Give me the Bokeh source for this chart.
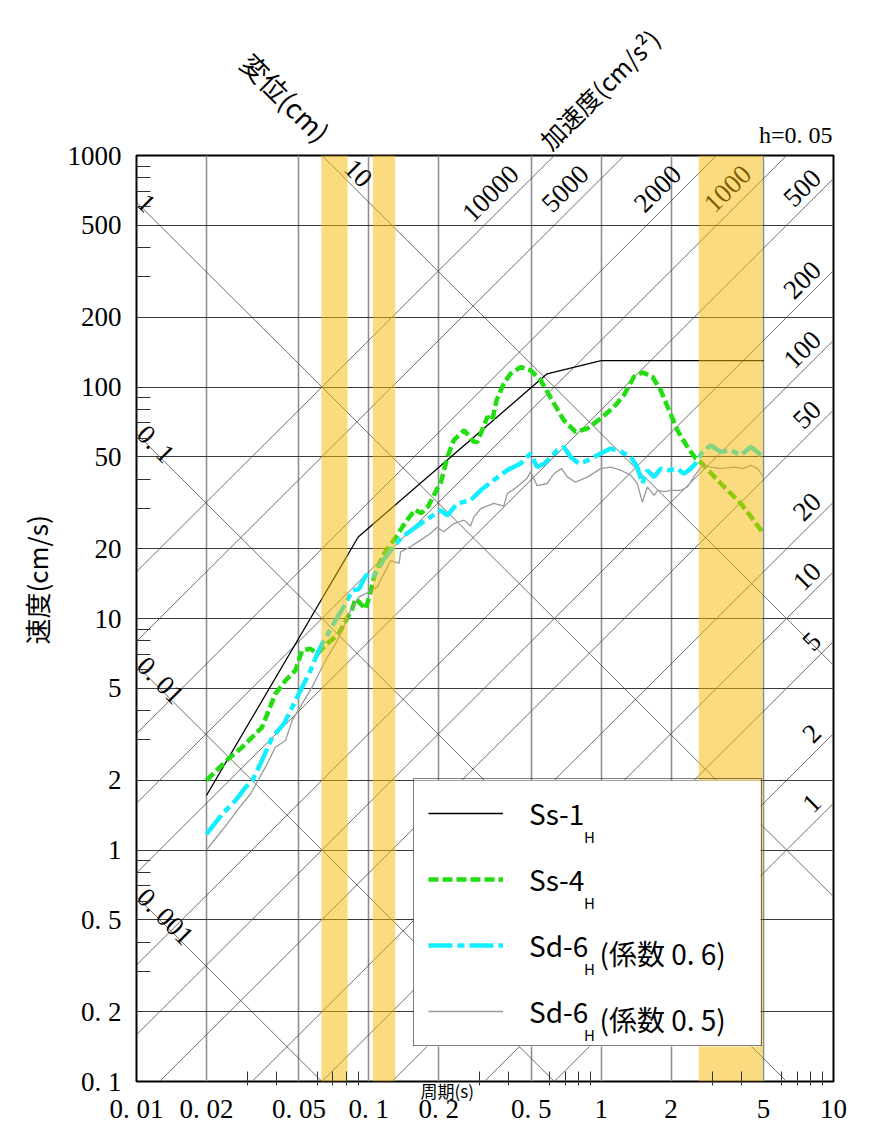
import math
from bokeh.plotting import figure
from bokeh.models import (FixedTicker, CustomJSTickFormatter, Legend, LegendItem,
                          ColumnDataSource, LogAxis, Title)
from bokeh.core.properties import value
from bokeh.embed import file_html
from bokeh.resources import INLINE

# ---------------- data ----------------
x_ticks = [0.01, 0.02, 0.05, 0.1, 0.2, 0.5, 1, 2, 5, 10]
x_tick_labels = ["0. 01", "0. 02", "0. 05", "0. 1", "0. 2", "0. 5", "1", "2", "5", "10"]
y_ticks = [0.1, 0.2, 0.5, 1, 2, 5, 10, 20, 50, 100, 200, 500, 1000]
y_tick_labels = ["0. 1", "0. 2", "0. 5", "1", "2", "5", "10", "20", "50", "100", "200", "500", "1000"]

disp_values = [0.001, 0.01, 0.1, 1, 10]             # displacement lines (cm)
disp_labels = ["0. 001", "0. 01", "0. 1", "1", "10"]
acc_values = [1, 2, 5, 10, 20, 50, 100, 200, 500, 1000, 2000, 5000, 10000]  # cm/s2
acc_labels = ["1", "2", "5", "10", "20", "50", "100", "200", "500", "1000", "2000", "5000", "10000"]

band_start = [0.0625, 0.104, 2.63]
band_end = [0.081, 0.130, 4.95]

ss1_period = [0.02, 0.09, 0.585, 1.0, 5.0]
ss1_vel = [1.72, 22.5, 114, 130, 130]

ss4_period = [0.02, 0.0249, 0.0285, 0.0347, 0.0396, 0.0438, 0.0483, 0.0516, 0.0561, 0.060,
              0.0673, 0.0743, 0.0848, 0.0877, 0.0937, 0.097, 0.1017, 0.106, 0.116, 0.128,
              0.146, 0.158, 0.168, 0.18, 0.197, 0.2036, 0.218, 0.232, 0.257, 0.283, 0.293,
              0.324, 0.34, 0.355, 0.381, 0.407, 0.45, 0.497, 0.549, 0.626, 0.691, 0.776,
              0.872, 0.995, 1.135, 1.253, 1.384, 1.504, 1.662, 1.804, 1.96, 2.13, 2.35,
              2.55, 2.68, 3.27, 3.99, 5.0]
ss4_vel = [2.0, 2.48, 2.78, 3.39, 4.73, 5.40, 5.97, 7.28, 7.4, 7.04,
           7.9, 8.6, 11.0, 12.2, 11.4, 11.0, 13.0, 15.5, 19.0, 21.8,
           26.6, 29.5, 28.5, 30.5, 36.4, 38.3, 49.9, 58.9, 65.0, 58.0, 57.9,
           74.3, 71.8, 88.0, 103.5, 114, 122, 118, 107, 84.9, 71.8, 64.0,
           66.2, 73.1, 82.0, 92.2, 110.7, 115.6, 110.7, 96.8, 79.4, 65.0, 55.1,
           49.1, 47.4, 38.3, 31.4, 23.3]

sd6a_period = [0.02, 0.0234, 0.0267, 0.0295, 0.0315, 0.0347, 0.0384, 0.0431, 0.0468, 0.0516,
               0.0561, 0.060, 0.063, 0.0719, 0.0794, 0.0848, 0.0906, 0.097, 0.1016, 0.105,
               0.116, 0.128, 0.137, 0.146, 0.167, 0.184, 0.2036, 0.218, 0.240, 0.274,
               0.303, 0.345, 0.394, 0.450, 0.497, 0.53, 0.57, 0.648, 0.691, 0.739,
               0.802, 0.872, 0.995, 1.099, 1.213, 1.34, 1.43, 1.504, 1.58, 1.69,
               1.804, 1.96, 2.13, 2.27, 2.43, 2.55, 2.73, 2.96, 3.27, 3.61,
               3.99, 4.40, 4.71, 5.0]
sd6a_vel = [1.17, 1.43, 1.64, 1.87, 1.99, 2.44, 3.07, 3.51, 4.14, 5.05,
            5.97, 7.04, 7.78, 9.82, 11.6, 13.2, 13.4, 15.3, 15.6, 15.2,
            18.0, 20.5, 22.1, 23.3, 25.7, 27.4, 29.3, 27.9, 31.4, 32.4,
            35.8, 39.6, 43.7, 46.7, 51.6, 45.1, 46.7, 53.4, 55.1, 49.9,
            46.7, 48.1, 51.6, 54.2, 52.6, 49.9, 45.1, 38.3, 43.7, 40.8,
            44.4, 43.7, 44.4, 42.2, 44.4, 46.7, 52.4, 56.0, 52.4, 53.4,
            50.7, 55.1, 52.4, 49.1]

sd6b_period = [0.02, 0.0249, 0.0275, 0.031, 0.0359, 0.0396, 0.0438, 0.0468, 0.0516, 0.057,
               0.0609, 0.0651, 0.0719, 0.0768, 0.0820, 0.0906, 0.1, 0.1087, 0.124, 0.135,
               0.137, 0.151, 0.167, 0.184, 0.197, 0.21, 0.232, 0.257, 0.274, 0.283,
               0.303, 0.345, 0.381, 0.394, 0.434, 0.479, 0.497, 0.53, 0.586, 0.626,
               0.674, 0.717, 0.776, 0.872, 0.995, 1.099, 1.213, 1.34, 1.43, 1.504,
               1.58, 1.69, 1.75, 1.87, 2.0, 2.2, 2.35, 2.5, 2.73, 2.96,
               3.27, 3.72, 4.1, 4.4, 4.71, 5.0]
sd6b_vel = [1.0, 1.32, 1.51, 1.75, 2.28, 2.78, 2.97, 3.63, 4.28, 5.05,
            5.77, 6.59, 7.78, 8.88, 10.5, 12.4, 13.0, 13.7, 17.8, 17.3,
            19.4, 20.4, 21.8, 23.3, 24.8, 23.7, 25.7, 26.6, 25.1, 27.4,
            29.8, 31.4, 30.6, 34.6, 37.0, 40.2, 43.0, 37.5, 38.3, 42.2,
            44.4, 40.8, 38.8, 40.8, 44.4, 45.1, 43.7, 41.6, 38.3, 31.8,
            37.0, 34.0, 35.8, 35.3, 35.8, 35.8, 37.0, 40.8, 45.9, 45.1,
            44.4, 45.1, 44.4, 45.9, 44.4, 40.8]

series_names = ["Ss-1", "Ss-4", "Sd-6", "Sd-6"]
series_sub = ["H", "H", "H", "H"]
series_suffix = ["", "", "(係数 0. 6)", "(係数 0. 5)"]

y_title = "速度(cm/s)"
x_title = "周期(s)"
disp_title = "変位(cm)"
acc_title = "加速度(cm/s²)"
damping_text = "h=0. 05"

# ---------------- figure ----------------
T_MIN, T_MAX, V_MIN, V_MAX = 0.01, 10, 0.1, 1000
FL, FR, FT, FB = 136, 833, 155, 1081   # frame edges in canvas px

p = figure(width=884, height=1127, x_axis_type="log", y_axis_type="log",
           x_range=(T_MIN, T_MAX), y_range=(V_MIN, V_MAX),
           output_backend="svg", toolbar_location=None,
           min_border_left=FL, min_border_right=884 - FR, min_border_top=FT, min_border_bottom=1127 - FB)
p.background_fill_color = "white"
p.border_fill_color = "white"
p.outline_line_color = "black"
p.outline_line_width = 2
p.title.text = ""
p.title.visible = False


def data_x(px):
    """canvas x pixel -> period (used only to place annotation text)"""
    return 10 ** (math.log10(T_MIN) + (px - FL) / (FR - FL) * math.log10(T_MAX / T_MIN))


def data_y(py):
    """canvas y pixel -> velocity (used only to place annotation text)"""
    return 10 ** (math.log10(V_MAX) - (py - FT) / (FB - FT) * math.log10(V_MAX / V_MIN))


# ---- panels below the frame: x title first (nearest), then the x axis ----
p.below.insert(0, Title(text=x_title, align="left", offset=420 - FL, vertical_align="top",
                        standoff=-8, text_font="Noto Sans CJK JP", text_font_size="17px",
                        text_font_style="normal", text_color="black"))
X_TITLE_SIZE = 15   # height taken by the x title panel

x_minor = [m * 10.0 ** e for e in (-2, -1, 0) for m in (3, 4, 6, 7, 8, 9)]
y_minor = [m * 10.0 ** e for e in (-1, 0, 1, 2) for m in (3, 4, 6, 7, 8, 9)]

fmt_code = """
for (let i = 0; i < vals.length; i++) {
  if (Math.abs(Math.log10(tick) - Math.log10(vals[i])) < 1e-6) return labs[i];
}
return "";
"""
p.xaxis.ticker = FixedTicker(ticks=x_ticks, minor_ticks=x_minor)
p.yaxis.ticker = FixedTicker(ticks=y_ticks, minor_ticks=y_minor)
p.xaxis.formatter = CustomJSTickFormatter(args=dict(vals=x_ticks, labs=x_tick_labels), code=fmt_code)
p.yaxis.formatter = CustomJSTickFormatter(args=dict(vals=y_ticks, labs=y_tick_labels), code=fmt_code)

for ax in (p.xaxis[0], p.yaxis[0]):
    ax.axis_line_color = None
    ax.major_tick_in = 0
    ax.major_tick_out = 0
    ax.minor_tick_line_color = "#333333"
    ax.minor_tick_line_width = 1
    ax.major_label_text_font = "Liberation Serif"
    ax.major_label_text_font_size = "27px"
    ax.major_label_text_color = "black"
p.yaxis.minor_tick_in = 14
p.yaxis.minor_tick_out = 0
# x axis sits below the x-title panel: its minor ticks reach back up inside the frame
p.xaxis.minor_tick_in = 14 + X_TITLE_SIZE
p.xaxis.minor_tick_out = -X_TITLE_SIZE
p.yaxis.major_label_standoff = 15
p.xaxis.major_label_standoff = -7

p.xgrid.grid_line_color = "#8f8f8f"
p.xgrid.grid_line_width = 1.6
p.ygrid.grid_line_color = "#3a3a3a"
p.ygrid.grid_line_width = 1.1

# y title on the left, placed along the axis like the original
p.add_layout(Title(text=y_title, align="left", offset=FB - 644, standoff=20,
                   text_font="Noto Sans CJK JP", text_font_size="26px",
                   text_font_style="normal", text_color="black"), "left")

# ---- panels above the frame: damping text (nearest), then the two rotated scale titles ----
TOP_TITLE_SIZE = 45
p.add_layout(Title(text=damping_text, align="right", offset=1, standoff=16,
                   text_font="Liberation Serif", text_font_size="24px",
                   text_font_style="normal", text_color="black"), "above")


def title_axis(text, px, orientation, standoff, size):
    return LogAxis(ticker=FixedTicker(ticks=[data_x(px)], minor_ticks=[]),
                   formatter=CustomJSTickFormatter(args=dict(txt=text), code="return txt;"),
                   major_label_orientation=orientation, major_label_standoff=standoff,
                   major_label_text_font="Noto Sans CJK JP", major_label_text_font_size=size,
                   major_label_text_color="black",
                   axis_line_color=None, major_tick_line_color=None, minor_tick_line_color=None,
                   major_tick_in=0, major_tick_out=0, minor_tick_in=0, minor_tick_out=0)


p.add_layout(title_axis(disp_title, 324.5, -math.pi / 4, 20 - TOP_TITLE_SIZE, "27px"), "above")
p.add_layout(title_axis(acc_title, 543.5, math.pi / 4, -117, "24.5px"), "above")

# ---------------- tripartite diagonal lines ----------------
T_ends = [T_MIN, T_MAX]
two_pi = 2 * math.pi
diag_xs, diag_ys = [], []
for d in disp_values:
    diag_xs.append(T_ends)
    diag_ys.append([two_pi * d / t for t in T_ends])
for a in acc_values:
    diag_xs.append(T_ends)
    diag_ys.append([a * t / two_pi for t in T_ends])
p.multi_line(diag_xs, diag_ys, line_color="#4a4a4a", line_width=0.8)

# labels of displacement lines (entry point on left or top edge)
dx, dy, dxo, dyo = [], [], [], []
for d in disp_values:
    v0 = two_pi * d / T_MIN
    if v0 <= V_MAX:
        dx.append(T_MIN); dy.append(v0); dxo.append(5); dyo.append(-4)
    else:
        dx.append(two_pi * d / V_MAX); dy.append(V_MAX); dxo.append(27); dyo.append(8)
p.text(x="x", y="y", text="t", x_offset="xo", y_offset="yo",
       source=ColumnDataSource(dict(x=dx, y=dy, t=disp_labels, xo=dxo, yo=dyo)),
       angle=-math.pi / 4, text_align="left", text_baseline="alphabetic",
       text_font=value("Liberation Serif"), text_font_size="27px", text_color="black")

# labels of acceleration lines (exit point on top or right edge)
ax_, ay_, axo, ayo = [], [], [], []
for a in acc_values:
    v10 = a * T_MAX / two_pi
    if v10 <= V_MAX:
        ax_.append(T_MAX); ay_.append(v10); axo.append(-17); ayo.append(-5)
    else:
        ax_.append(two_pi * V_MAX / a); ay_.append(V_MAX); axo.append(-40); ayo.append(14)
p.text(x="x", y="y", text="t", x_offset="xo", y_offset="yo",
       source=ColumnDataSource(dict(x=ax_, y=ay_, t=acc_labels, xo=axo, yo=ayo)),
       angle=math.pi / 4, text_align="right", text_baseline="alphabetic",
       text_font=value("Liberation Serif"), text_font_size="27px", text_color="black")

# ---------------- spectra ----------------
r1 = p.line(ss1_period, ss1_vel, line_color="black", line_width=1.3)
r2 = p.line(ss4_period, ss4_vel, line_color="#22dd11", line_width=4.5, line_dash="10 4")
r3 = p.line(sd6a_period, sd6a_vel, line_color="#11eeff", line_width=4.5, line_dash="24 5 7 5")
r4 = p.line(sd6b_period, sd6b_vel, line_color="#9a9a9a", line_width=1.3)

# ---------------- highlighted period bands ----------------
p.quad(left=band_start, right=band_end, bottom=V_MIN, top=V_MAX,
       fill_color="#f7b802", fill_alpha=0.5, line_color=None)

# ---------------- legend ----------------
LEG_L, LEG_R, LEG_B = 413, 760, 1046
LEG_PAD, LEG_ITEM_H, LEG_SPACE = 14, 40, 26
leg_h = 2 * LEG_PAD + 4 * LEG_ITEM_H + 3 * LEG_SPACE
LEG_T = LEG_B - leg_h

# opaque backing of the legend box (the legend itself is drawn transparent on top)
p.quad(left=[data_x(LEG_L)], right=[data_x(LEG_R)], top=[data_y(LEG_T)], bottom=[data_y(LEG_B)],
       fill_color="white", line_color=None)

legend = Legend(items=[LegendItem(label=n, renderers=[r]) for n, r in zip(series_names, [r1, r2, r3, r4])],
                location=(LEG_L - FL, FB - LEG_B), orientation="vertical",
                padding=LEG_PAD, spacing=LEG_SPACE, margin=0,
                glyph_width=75, glyph_height=LEG_ITEM_H, label_height=LEG_ITEM_H,
                label_width=218, label_standoff=26,
                label_text_font="Noto Sans CJK JP", label_text_font_size="28px",
                label_text_color="black",
                border_line_color="black", border_line_width=1.5,
                background_fill_alpha=0.0)
p.add_layout(legend)

row0 = LEG_T + LEG_PAD + LEG_ITEM_H / 2
row_step = LEG_ITEM_H + LEG_SPACE
sub_x = [data_x(589)] * 4
sub_y = [data_y(row0 + row_step * i + 22) for i in range(4)]
p.text(x=sub_x, y=sub_y, text=series_sub, text_align="center", text_baseline="middle",
       text_font=value("Noto Sans CJK JP"), text_font_size="15px", text_color="black")
suf_idx = [i for i, s in enumerate(series_suffix) if s]
p.text(x=[data_x(599)] * len(suf_idx), y=[data_y(row0 + row_step * i + 6) for i in suf_idx],
       text=[series_suffix[i] for i in suf_idx], text_align="left", text_baseline="middle",
       text_font=value("Noto Sans CJK JP"), text_font_size="28px", text_color="black")

open("out.html", "w").write(file_html(p, INLINE))
